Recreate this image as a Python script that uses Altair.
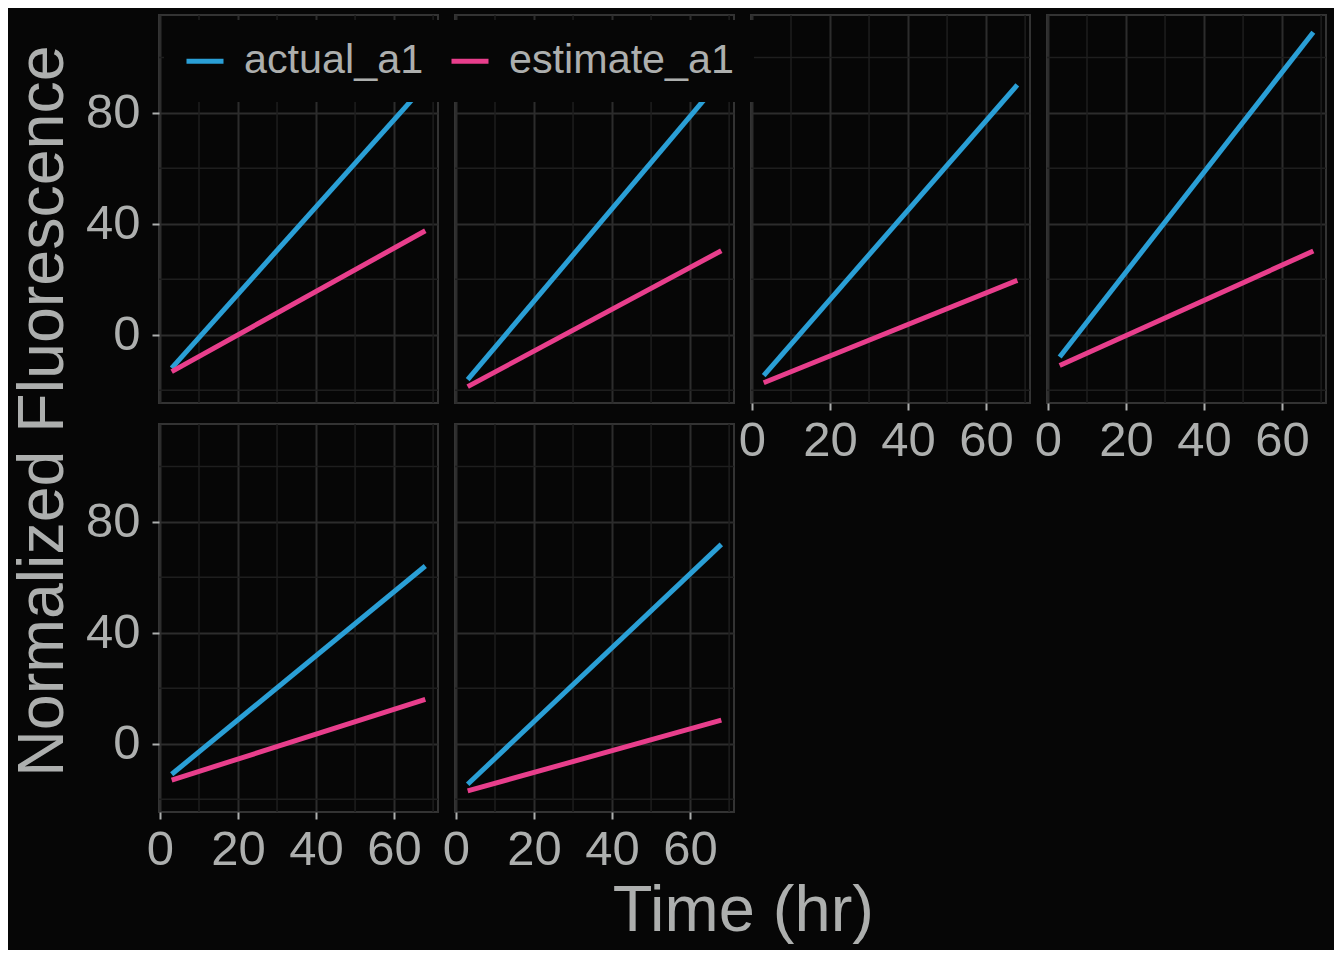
import altair as alt
import pandas as pd

# ---- data ----
panel_ids = [1, 2, 3, 4, 5, 6]
time_hr = [3, 68]
actual_a1_start = [-12.0, -16.2, -14.7, -8.0, -11.0, -14.6]
actual_a1_end = [90.1, 92.1, 90.1, 109.1, 64.1, 71.9]
estimate_a1_start = [-13.3, -18.7, -17.3, -11.1, -13.1, -17.0]
estimate_a1_end = [37.5, 30.3, 19.6, 30.2, 16.0, 8.5]
series_names = ["actual_a1", "estimate_a1"]
series_colors = ["#2a9fd6", "#e83e8c"]
x_ticks = [0, 20, 40, 60]
x_minor = [10, 30, 50, 70]
y_ticks = [0, 40, 80]
y_minor = [-20, 20, 60, 100]

rows = []
for i, pid in enumerate(panel_ids):
    for name, st, en in ((series_names[0], actual_a1_start, actual_a1_end),
                         (series_names[1], estimate_a1_start, estimate_a1_end)):
        rows.append({"panel": pid, "series": name, "time": time_hr[0], "value": st[i]})
        rows.append({"panel": pid, "series": name, "time": time_hr[1], "value": en[i]})
df = pd.DataFrame(rows)
minor_x_df = pd.DataFrame({"v": x_minor})
minor_y_df = pd.DataFrame({"v": y_minor})

BG = "#060606"
FG = "#adafae"
GRID = "#2c2c2c"
MINOR = "#1e1e1e"
FONT = "Liberation Sans"
W, H = 279, 388

xscale = alt.Scale(domain=[-0.25, 71.25], nice=False, zero=False)
yscale = alt.Scale(domain=[-24.6, 115.3], nice=False, zero=False)


def panel(pid, show_y, show_x):
    d = df[df["panel"] == pid]
    xaxis = alt.Axis(values=x_ticks, labels=show_x, ticks=show_x, title=None,
                     grid=True, domain=False, labelFlush=False, labelPadding=6)
    yaxis = alt.Axis(values=y_ticks, labels=show_y, ticks=show_y, title=None,
                     grid=True, domain=False, labelFlush=False, labelPadding=12)
    vminor = alt.Chart(minor_x_df).mark_rule(color=MINOR, strokeWidth=1.5).encode(
        x=alt.X("v:Q", scale=xscale, axis=xaxis)
    )
    hminor = alt.Chart(minor_y_df).mark_rule(color=MINOR, strokeWidth=1.5).encode(
        y=alt.Y("v:Q", scale=yscale, axis=yaxis)
    )
    lines = alt.Chart(d).mark_line(strokeWidth=5, clip=True).encode(
        x=alt.X("time:Q", scale=xscale, axis=xaxis),
        y=alt.Y("value:Q", scale=yscale, axis=yaxis),
        color=alt.Color(
            "series:N",
            scale=alt.Scale(domain=series_names, range=series_colors),
            legend=alt.Legend(
                orient="none", legendX=5, legendY=5, direction="horizontal",
                title=None, fillColor=BG, padding=20, symbolType="stroke",
                symbolSize=1369, symbolStrokeWidth=5, labelFontSize=41.3,
                labelColor=FG, labelFont=FONT, labelOffset=18, columnPadding=17,
                symbolOpacity=1, labelLimit=500,
            ),
        ),
    )
    return alt.layer(vminor, hminor, lines).properties(width=W, height=H)


p1 = panel(1, True, False)
p2 = panel(2, False, False)
p3 = panel(3, False, True)
p4 = panel(4, False, True)
p5 = panel(5, True, True)
p6 = panel(6, False, True)

col1 = alt.vconcat(p1, p5, spacing=17).properties(
    title=alt.TitleParams("Normalized Fluorescence", orient="left", anchor="middle",
                          fontSize=64.5, color=FG, font=FONT, fontWeight="normal",
                          offset=8, dx=33)
)
col2 = alt.vconcat(p2, p6, spacing=17)

chart = alt.hconcat(col1, col2, p3, p4, spacing=1).properties(
    title=alt.TitleParams("Time (hr)", orient="bottom", anchor="middle",
                          fontSize=65, color=FG, font=FONT, fontWeight="normal",
                          offset=5, dx=74)
).configure(
    background=BG,
    padding={"top": 5, "left": 2, "right": 6, "bottom": 6},
).configure_view(
    stroke="#333333", strokeWidth=2
).configure_axis(
    labelFont=FONT, labelFontSize=49, labelColor=FG,
    tickColor=FG, tickSize=7, tickWidth=2, gridColor=GRID, gridWidth=2,
)

chart.save("out.html", embed_options={"renderer": "svg", "actions": False})
